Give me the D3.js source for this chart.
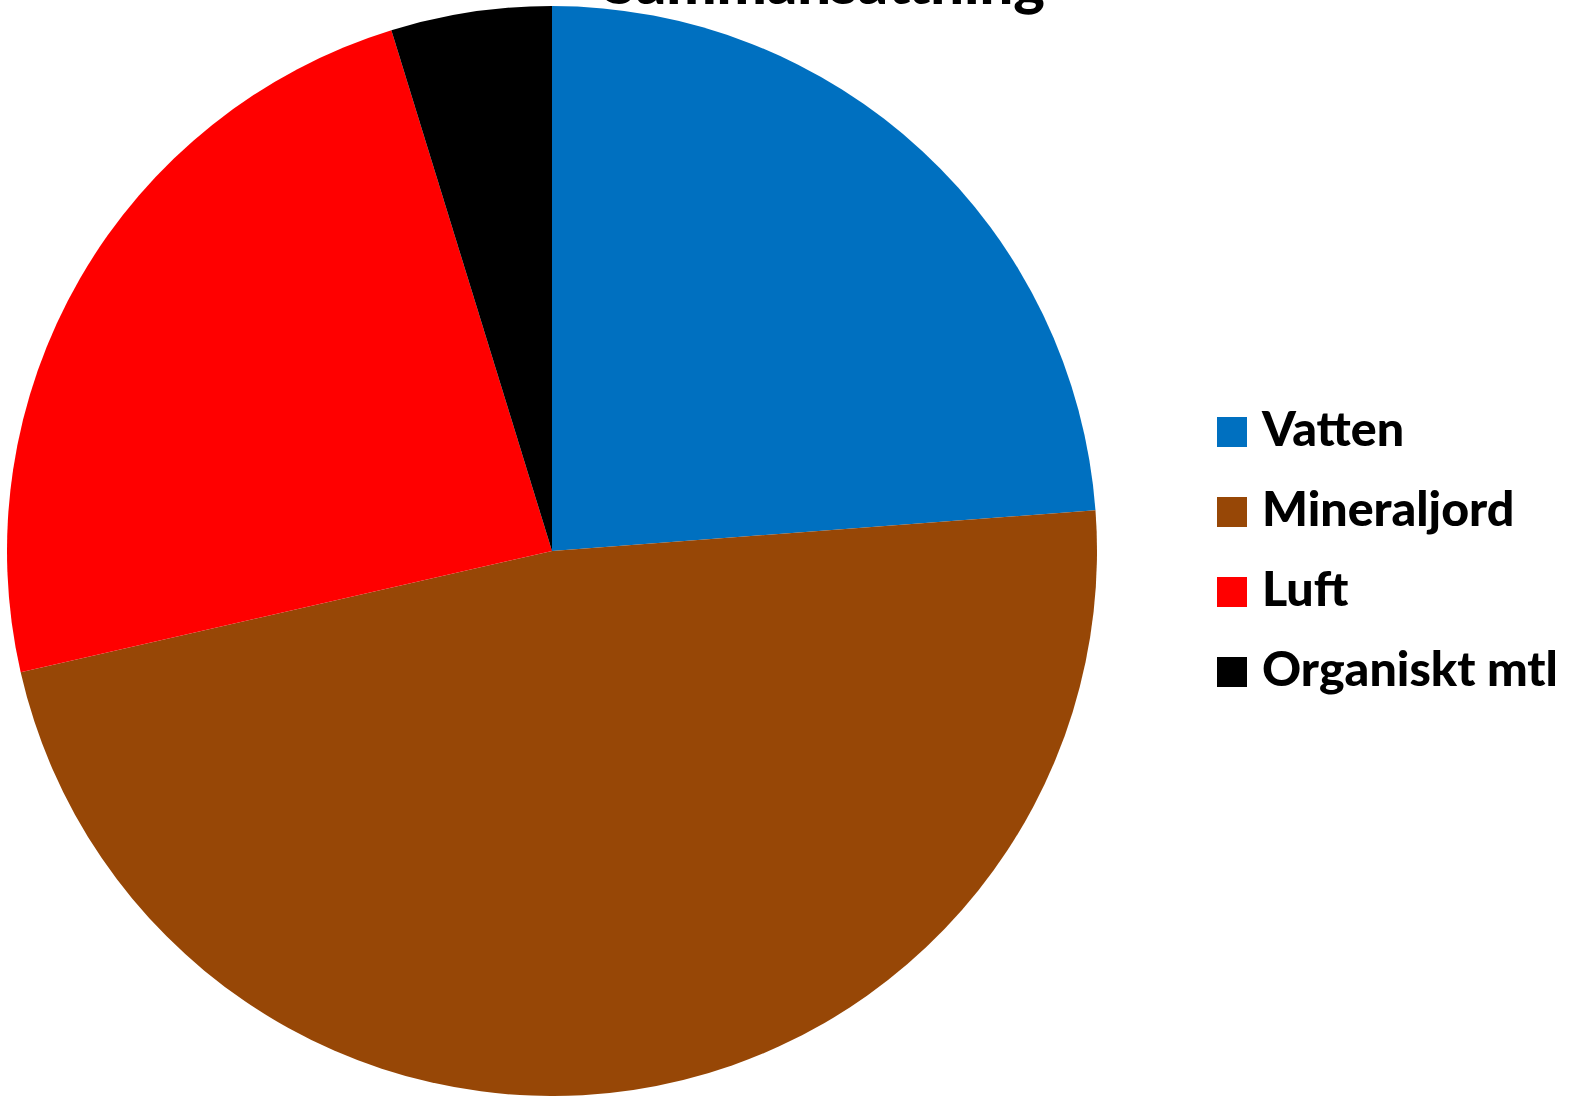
<!DOCTYPE html>
<html>
<head>
<meta charset="utf-8">
<script src="https://cdn.jsdelivr.net/npm/d3@7"></script>
<style>
  body { margin: 0; background: #fff; }
  svg { display: block; }
  text { font-family: Lato, "Open Sans", sans-serif; font-weight: 900; }
</style>
</head>
<body>
<svg id="chart" width="1572" height="1096"></svg>
<script>
  // parts of the soil (25/50/25/5)
  let categories = ['Vatten', 'Mineraljord', 'Luft', 'Organiskt mtl']
  let values = [25, 50, 25, 5]
  let colors = ['#0070C0', '#974706', '#FF0000', '#000000']
  let title = 'Sammansättning'

  let svg = d3.select('#chart')

  let cx = 552, cy = 551, radius = 545

  let color = d3.scaleOrdinal()
    .domain(categories)
    .range(colors)

  let pie = d3.pie()
    .sort(null)
    .value(d => d.value)

  let arc = d3.arc()
    .innerRadius(0)
    .outerRadius(radius)

  let data = categories.map((c, i) => ({ name: c, value: values[i] }))

  svg.append('g')
    .attr('transform', `translate(${cx},${cy})`)
    .selectAll('path')
    .data(pie(data))
    .enter()
    .append('path')
    .attr('d', arc)
    .attr('fill', d => color(d.data.name))

  // title sits mostly above the top edge, only the bottom shows
  let t = svg.append('text')
    .attr('x', 1045)
    .attr('y', 4)
    .attr('text-anchor', 'end')
    .attr('font-size', 60)
    .text(title)
  let tw = t.node().getComputedTextLength()
  t.attr('font-size', 60 * 442 / tw)

  let legend = svg.append('g')
    .attr('transform', 'translate(1217,417)')

  let items = legend.selectAll('g')
    .data(categories)
    .enter()
    .append('g')
    .attr('transform', (d, i) => `translate(0,${i * 80})`)

  items.append('rect')
    .attr('width', 30)
    .attr('height', 30)
    .attr('fill', d => color(d))

  let labels = items.append('text')
    .attr('x', 45)
    .attr('y', 29)
    .attr('font-size', 44)
    .text(d => d)

  // scale the legend font so the longest label spans like the original
  let lw = labels.filter(d => d === 'Organiskt mtl').node().getComputedTextLength()
  labels.attr('font-size', 44 * 296 / lw)
</script>
</body>
</html>
